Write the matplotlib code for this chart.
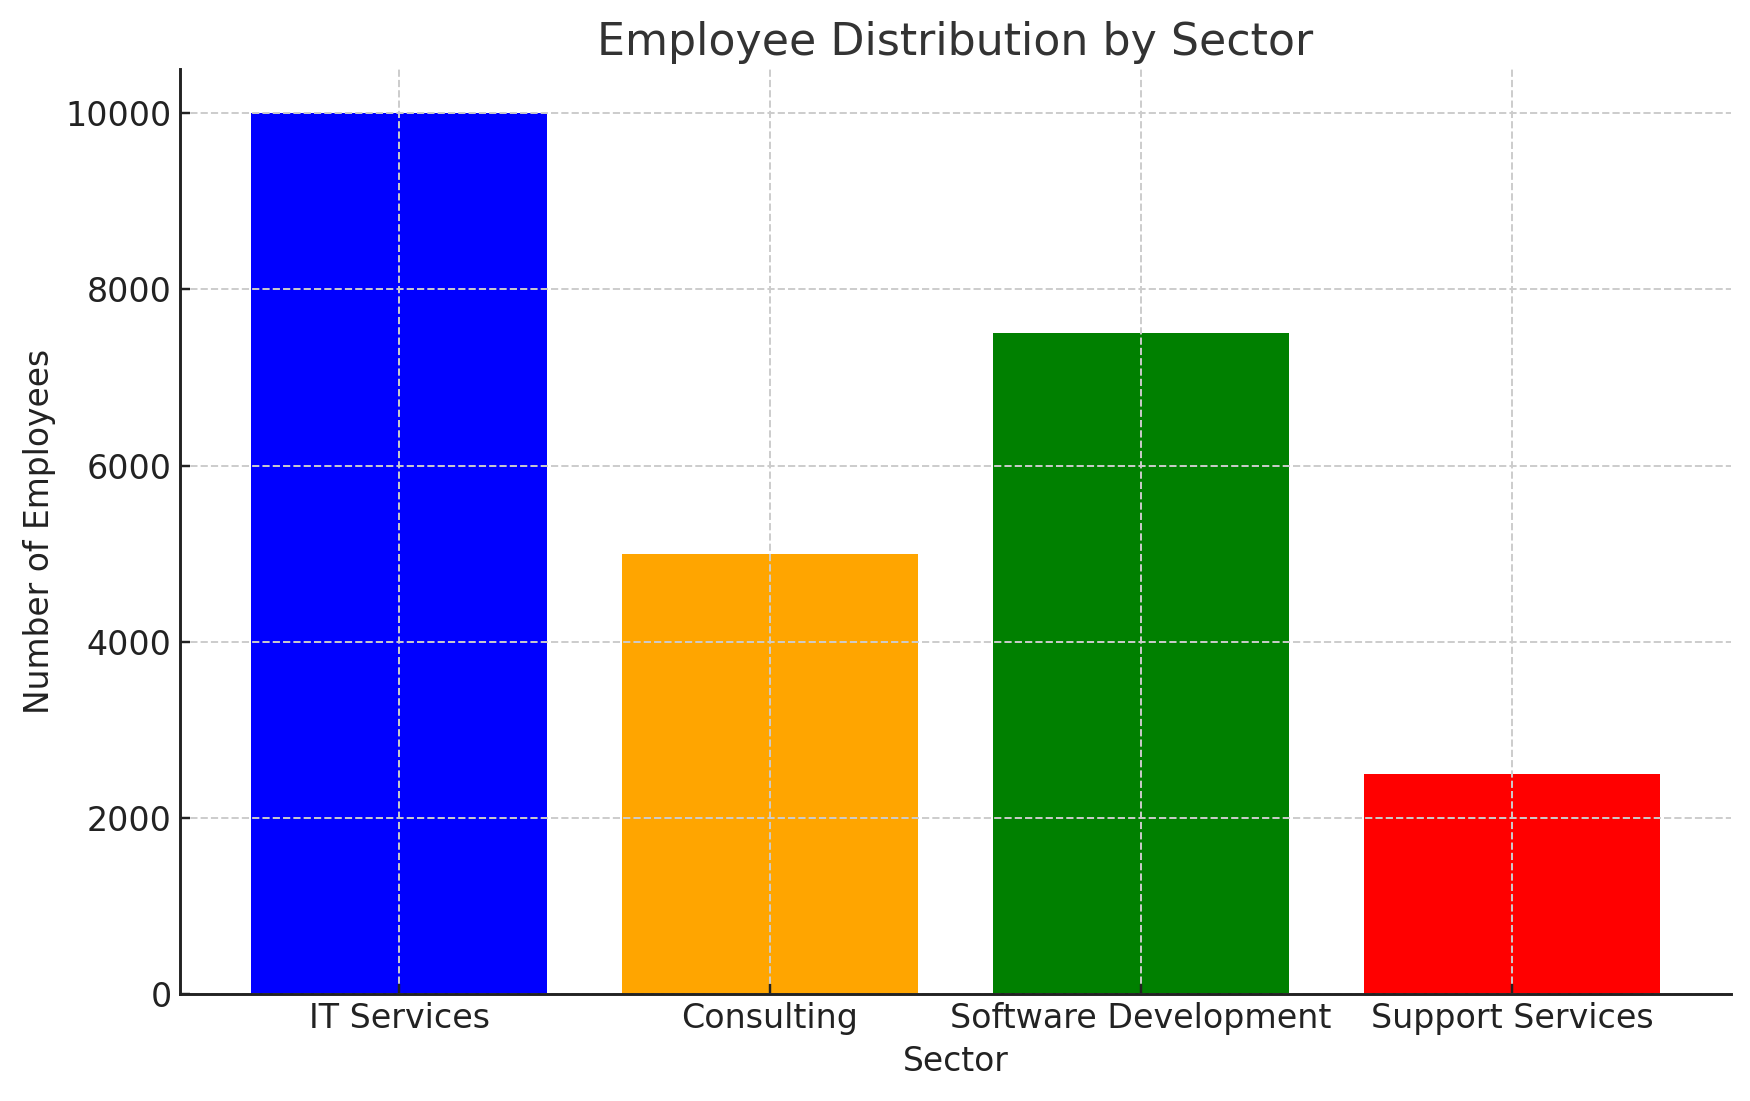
import matplotlib.pyplot as plt

# Data
sectors = ["IT Services", "Consulting", "Software Development", "Support Services"]
employees = [10000, 5000, 7500, 2500]
bar_colors = ["blue", "orange", "green", "red"]

plt.rcParams["font.family"] = ["DejaVu Sans"]

fig = plt.figure(figsize=(10, 1101 / 175), dpi=175)
ax = fig.add_axes([0.103, 0.0972, 0.886, 0.84])

ax.bar(sectors, employees, color=bar_colors, width=0.8)

# Grid drawn on top of the bars, like the reference
ax.set_axisbelow(False)
ax.grid(True, linestyle="--", color="#cccccc", linewidth=0.8)

ax.set_title("Employee Distribution by Sector", fontsize=18.2, color="#333333")
ax.set_xlabel("Sector", fontsize=13.5, color="#222222", labelpad=4)
ax.set_ylabel("Number of Employees", fontsize=13.5, color="#222222")

ax.tick_params(axis="both", direction="in", length=4, width=1, colors="#222222",
               labelsize=13.7)

ax.spines["top"].set_visible(False)
ax.spines["right"].set_visible(False)
for side in ["left", "bottom"]:
    ax.spines[side].set_linewidth(1.2)
    ax.spines[side].set_color("#222222")
    # keep the solid axis lines above the dashed grid
    ax.spines[side].set_zorder(4)

fig.savefig("out.png", dpi=175)
plt.close(fig)
